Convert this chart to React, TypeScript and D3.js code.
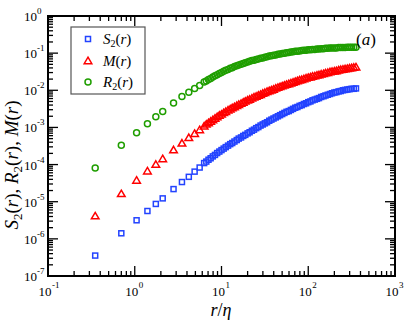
import React from "react";
import * as d3 from "d3";

// r/eta sample positions (sparse at small r, then the dense run)
const R_VALUES = [
  0.35, 0.7, 1.05, 1.4, 1.75, 2.1, 2.8, 3.5, 4.2, 4.9, 5.6,
  6.31, 6.68, 7.08, 7.5, 7.94, 8.41, 8.91, 9.44, 10.0, 10.6,
  11.2, 11.9, 12.6, 13.3, 14.1, 15.0, 15.8, 16.8, 17.8, 18.8,
  20.0, 21.1, 22.4, 23.7, 25.1, 26.6, 28.2, 29.9, 31.6, 33.5,
  35.5, 37.6, 39.8, 42.2, 44.7, 47.3, 50.1, 53.1, 56.2, 59.6,
  63.1, 66.8, 70.8, 75.0, 79.4, 84.1, 89.1, 94.4, 100, 106,
  112, 119, 126, 133, 141, 150, 158, 168, 178, 188,
  200, 211, 224, 237, 251, 266, 282, 299, 316, 335, 355,
];

// log10 of each series
const S2_LOG = [
  -6.45, -5.85, -5.5, -5.25, -5.06, -4.91, -4.66, -4.47, -4.33, -4.19, -4.08,
  -3.96, -3.92, -3.87, -3.83, -3.78, -3.74, -3.69, -3.65, -3.61, -3.57,
  -3.53, -3.49, -3.45, -3.42, -3.38, -3.34, -3.3, -3.27, -3.23, -3.2,
  -3.16, -3.13, -3.09, -3.06, -3.02, -2.99, -2.95, -2.92, -2.89, -2.86,
  -2.82, -2.79, -2.76, -2.73, -2.7, -2.67, -2.64, -2.61, -2.58, -2.56,
  -2.53, -2.5, -2.47, -2.45, -2.42, -2.4, -2.37, -2.35, -2.32, -2.3,
  -2.27, -2.25, -2.23, -2.21, -2.18, -2.16, -2.14, -2.12, -2.1, -2.08,
  -2.06, -2.05, -2.03, -2.02, -2.0, -1.99, -1.98, -1.97, -1.96, -1.96, -1.95,
];
const M_LOG = [
  -5.39, -4.79, -4.43, -4.18, -4.0, -3.85, -3.61, -3.43, -3.28, -3.17, -3.07,
  -2.97, -2.92, -2.88, -2.84, -2.8, -2.76, -2.72, -2.68, -2.65, -2.61,
  -2.58, -2.54, -2.51, -2.48, -2.45, -2.42, -2.39, -2.36, -2.33, -2.3,
  -2.27, -2.25, -2.22, -2.19, -2.17, -2.14, -2.12, -2.09, -2.07, -2.04,
  -2.02, -2.0, -1.98, -1.95, -1.93, -1.91, -1.89, -1.87, -1.85, -1.83,
  -1.81, -1.79, -1.77, -1.75, -1.73, -1.72, -1.7, -1.68, -1.66, -1.65,
  -1.63, -1.62, -1.6, -1.59, -1.57, -1.56, -1.54, -1.53, -1.51, -1.5,
  -1.49, -1.48, -1.46, -1.45, -1.44, -1.43, -1.42, -1.41, -1.4, -1.39, -1.38,
];
const R2_LOG = [
  -4.09, -3.48, -3.14, -2.9, -2.71, -2.57, -2.34, -2.17, -2.05, -1.95, -1.87,
  -1.78, -1.75, -1.71, -1.68, -1.64, -1.61, -1.58, -1.55, -1.52, -1.49,
  -1.46, -1.44, -1.41, -1.39, -1.36, -1.34, -1.32, -1.3, -1.28, -1.26,
  -1.24, -1.22, -1.2, -1.19, -1.17, -1.16, -1.14, -1.13, -1.11, -1.1,
  -1.08, -1.07, -1.06, -1.05, -1.03, -1.02, -1.01, -1.0, -0.99, -0.98,
  -0.97, -0.96, -0.95, -0.95, -0.94, -0.93, -0.92, -0.92, -0.91, -0.91,
  -0.9, -0.9, -0.89, -0.89, -0.88, -0.88, -0.87, -0.87, -0.86, -0.86,
  -0.86, -0.86, -0.85, -0.85, -0.85, -0.85, -0.84, -0.84, -0.84, -0.84, -0.84,
];

const X_DECADES = [-1, 0, 1, 2, 3];
const Y_DECADES = [0, -1, -2, -3, -4, -5, -6, -7];

const BLUE = "#2343ff";
const RED = "#ff0000";
const GREEN = "#1f9e00";
const FONT = "Liberation Serif, DejaVu Serif, serif";

const L = 48, R = 395, T = 16, B = 276;

function Sq({ x, y }: { x: number; y: number }) {
  return <rect x={x - 2.5} y={y - 2.5} width={5} height={5} fill="none" stroke={BLUE} strokeWidth={1.5} />;
}
function Tri({ x, y }: { x: number; y: number }) {
  const s = 3.8;
  return (
    <path
      d={`M${x},${y - s} L${x + s},${y + s * 0.7} L${x - s},${y + s * 0.7} Z`}
      fill="none" stroke={RED} strokeWidth={1.5}
    />
  );
}
function Circ({ x, y }: { x: number; y: number }) {
  return <circle cx={x} cy={y} r={3} fill="none" stroke={GREEN} strokeWidth={1.5} />;
}

export default function App() {
  const x = d3.scaleLog().domain([0.1, 1000]).range([L, R]);
  const y = d3.scaleLog().domain([1e-7, 1]).range([B, T]);

  const minorX: number[] = [];
  X_DECADES.slice(0, -1).forEach((e) => {
    for (let k = 2; k <= 9; k++) minorX.push(k * 10 ** e);
  });
  const minorY: number[] = [];
  Y_DECADES.slice(1).forEach((e) => {
    for (let k = 2; k <= 9; k++) minorY.push(k * 10 ** e);
  });

  const sup = (e: number) => (e < 0 ? "-" + -e : String(e));
  const txt = { fontFamily: FONT };

  return (
    <svg width={407} height={321} style={{ position: "absolute", left: 0, top: 0, fontFamily: FONT }}>
      <rect width={407} height={321} fill="#fff" />

      {/* ticks */}
      <g stroke="#000" strokeWidth={1.3}>
        {X_DECADES.map((e) => (
          <g key={"xm" + e}>
            <line x1={x(10 ** e)} x2={x(10 ** e)} y1={B} y2={B - 10} />
            <line x1={x(10 ** e)} x2={x(10 ** e)} y1={T} y2={T + 10} />
          </g>
        ))}
        {minorX.map((v, i) => (
          <g key={"xn" + i}>
            <line x1={x(v)} x2={x(v)} y1={B} y2={B - 5} />
            <line x1={x(v)} x2={x(v)} y1={T} y2={T + 5} />
          </g>
        ))}
        {Y_DECADES.map((e) => (
          <g key={"ym" + e}>
            <line x1={L} x2={L + 10} y1={y(10 ** e)} y2={y(10 ** e)} />
            <line x1={R} x2={R - 10} y1={y(10 ** e)} y2={y(10 ** e)} />
          </g>
        ))}
        {minorY.map((v, i) => (
          <g key={"yn" + i}>
            <line x1={L} x2={L + 5} y1={y(v)} y2={y(v)} />
            <line x1={R} x2={R - 5} y1={y(v)} y2={y(v)} />
          </g>
        ))}
      </g>
      <rect x={L} y={T} width={R - L} height={B - T} fill="none" stroke="#000" strokeWidth={2} />

      {/* tick labels */}
      <g fontSize={13} fill="#000" style={txt}>
        {X_DECADES.map((e) => (
          <text key={"xl" + e} x={x(10 ** e) - 3} y={296} textAnchor="middle">10</text>
        ))}
        {X_DECADES.map((e) => (
          <text key={"xs" + e} x={x(10 ** e) + 4} y={288} fontSize={9}>{sup(e)}</text>
        ))}
        {Y_DECADES.map((e) => (
          <text key={"yl" + e} x={37} y={y(10 ** e) + 5} textAnchor="end">10</text>
        ))}
        {Y_DECADES.map((e) => (
          <text key={"ys" + e} x={37} y={y(10 ** e) - 2} fontSize={9}>{sup(e)}</text>
        ))}
      </g>

      {/* series */}
      <g>
        {R_VALUES.map((r, i) => <Sq key={"s" + i} x={x(r)} y={y(10 ** S2_LOG[i])} />)}
        {R_VALUES.map((r, i) => <Tri key={"m" + i} x={x(r)} y={y(10 ** M_LOG[i])} />)}
        {R_VALUES.map((r, i) => <Circ key={"c" + i} x={x(r)} y={y(10 ** R2_LOG[i])} />)}
      </g>

      {/* legend */}
      <rect x={71} y={27} width={74} height={67} fill="#fff" stroke="#555" strokeWidth={1.2} />
      <Sq x={88} y={39} />
      <Tri x={88} y={61} />
      <Circ x={88} y={82} />
      <g fontSize={15} style={txt}>
        <text x={103} y={44}>
          <tspan fontStyle="italic">S</tspan><tspan fontSize={10} dy={3}>2</tspan><tspan dy={-3}>(</tspan><tspan fontStyle="italic">r</tspan>)
        </text>
        <text x={103} y={66}>
          <tspan fontStyle="italic">M</tspan>(<tspan fontStyle="italic">r</tspan>)
        </text>
        <text x={103} y={87}>
          <tspan fontStyle="italic">R</tspan><tspan fontSize={10} dy={3}>2</tspan><tspan dy={-3}>(</tspan><tspan fontStyle="italic">r</tspan>)
        </text>
      </g>

      <text x={356} y={45} fontSize={17} style={txt}>
        (<tspan fontStyle="italic">a</tspan>)
      </text>

      {/* axis titles */}
      <text x={221} y={316} fontSize={18} textAnchor="middle" style={txt}>
        <tspan fontStyle="italic">r</tspan>/<tspan fontStyle="italic">η</tspan>
      </text>
      <text transform="translate(18,165) rotate(-90)" fontSize={19} textAnchor="middle" style={txt}>
        <tspan fontStyle="italic">S</tspan><tspan fontSize={13} dy={4}>2</tspan><tspan dy={-4}>(</tspan><tspan fontStyle="italic">r</tspan>),{" "}
        <tspan fontStyle="italic">R</tspan><tspan fontSize={13} dy={4}>2</tspan><tspan dy={-4}>(</tspan><tspan fontStyle="italic">r</tspan>),{" "}
        <tspan fontStyle="italic">M</tspan>(<tspan fontStyle="italic">r</tspan>)
      </text>
    </svg>
  );
}
